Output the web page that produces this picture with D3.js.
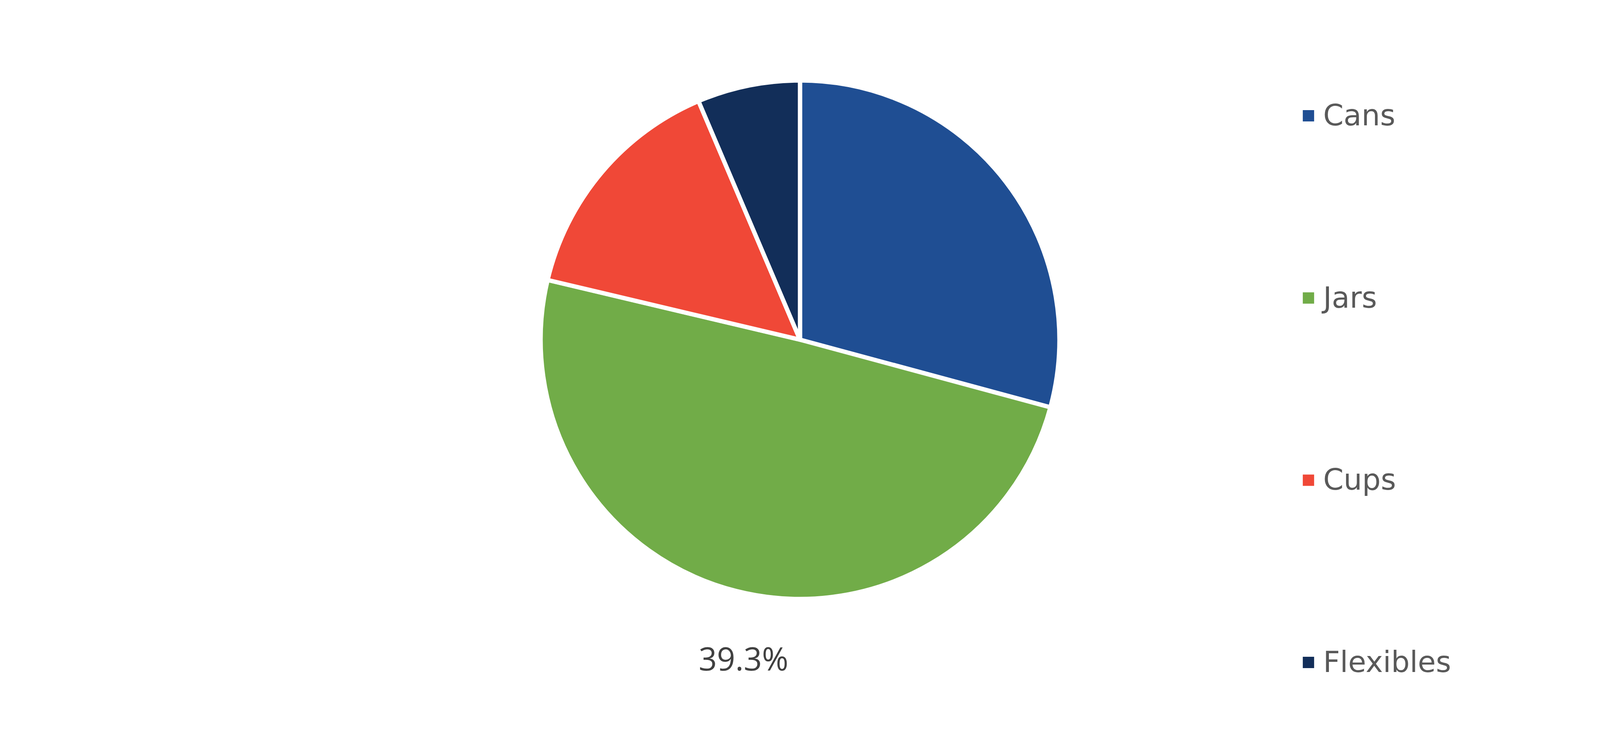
<!DOCTYPE html>
<html>
<head>
<meta charset="utf-8">
<script src="https://cdn.jsdelivr.net/npm/d3@7"></script>
<style>
html,body{margin:0;padding:0;background:#fff;overflow:hidden;width:100%;height:100%;}
svg{display:block;}
</style>
</head>
<body>
<svg id="chart"></svg>
<script>
const categories = ["Cans", "Jars", "Cups", "Flexibles"];
const values = [29.2, 49.5, 14.9, 6.4];
const colors = ["#1F4E93", "#71AC48", "#F04837", "#122E59"];
const dataLabels = ["", "39.3%", "", ""];

// reference design size; layout adapts to the actual window
const REF_W = 5082, REF_H = 1931;
const W = window.innerWidth || REF_W, H = window.innerHeight || REF_H;
const sx = W / REF_W, sy = H / REF_H;
const s = sy; // size factor (keeps circle round and text proportional to height)

const svg = d3.select("#chart").attr("width", W).attr("height", H);
svg.append("rect").attr("width", W).attr("height", H).attr("fill", "#fff");

const cx = 2541 * sx, cy = 870 * sy, R = 664 * s;

const data = categories.map((c, i) => ({name: c, value: values[i], color: colors[i], label: dataLabels[i]}));

const pie = d3.pie().value(d => d.value).sort(null);
const arc = d3.arc().innerRadius(0).outerRadius(R);
const arcs = pie(data);

const g = svg.append("g").attr("transform", `translate(${cx},${cy})`);
g.selectAll("path.slice").data(arcs).enter().append("path")
  .attr("class", "slice")
  .attr("d", arc)
  .attr("fill", d => d.data.color)
  .attr("stroke", "#fff")
  .attr("stroke-width", 11 * s);

// data label (sits below the pie, as in the reference)
const labelArc = d3.arc().innerRadius(R * 1.285).outerRadius(R * 1.285);
g.selectAll("text.dl").data(arcs.filter(d => d.data.label)).enter().append("text")
  .attr("class", "dl")
  .attr("x", d => labelArc.centroid(d)[0] + 65 * s)
  .attr("y", d => labelArc.centroid(d)[1] + 20 * s)
  .attr("text-anchor", "middle")
  .style("font-family", "'Open Sans', 'Segoe UI', sans-serif")
  .style("font-size", (82 * s) + "px")
  .attr("fill", "#404040")
  .text(d => d.data.label);

// legend
const legendY = d3.scalePoint().domain(categories).range([296.5 * sy, 1696.5 * sy]);
const items = svg.append("g").selectAll("g.item").data(data).enter().append("g")
  .attr("class", "item")
  .attr("transform", d => `translate(${4138 * sx},${legendY(d.name)})`);
items.append("rect")
  .attr("x", 0).attr("y", -14.5 * s)
  .attr("width", 29 * s).attr("height", 29 * s)
  .attr("fill", d => d.color);
items.append("text")
  .attr("x", 52 * s).attr("y", 24.5 * s)
  .style("font-family", "'DejaVu Sans', Verdana, sans-serif")
  .style("font-size", (75 * s) + "px")
  .attr("fill", "#595959")
  .text(d => d.name);
</script>
</body>
</html>
